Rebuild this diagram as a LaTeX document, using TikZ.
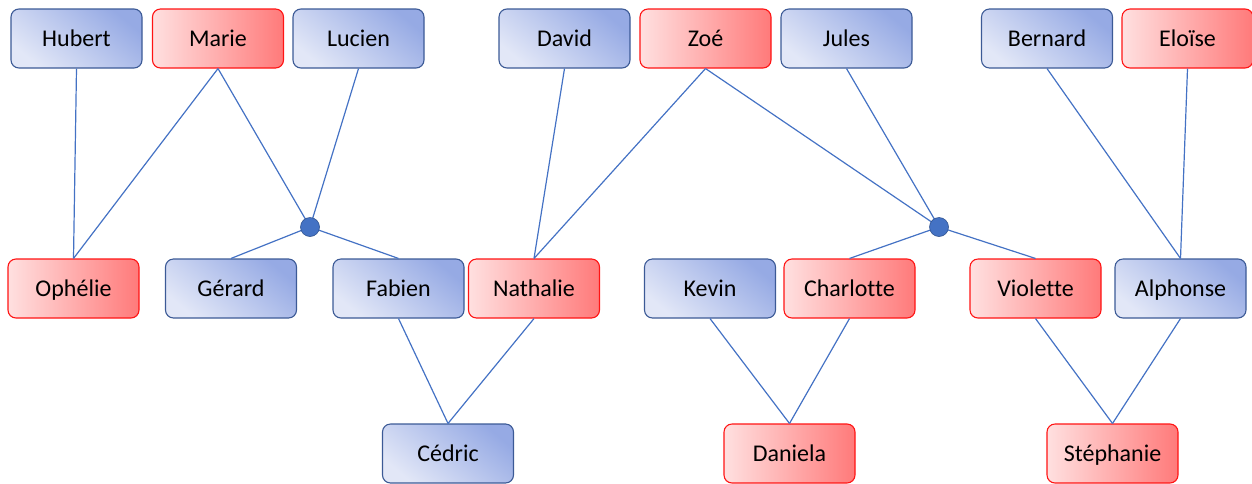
\documentclass[tikz,border=0pt]{standalone}
\usepackage{fontspec}
\setmainfont{Carlito}[Ligatures=NoCommon]
\definecolor{bdark}{RGB}{150,170,228}
\definecolor{blight}{RGB}{226,231,247}
\definecolor{bborder}{RGB}{60,90,150}
\definecolor{rdark}{RGB}{255,122,122}
\definecolor{rlight}{RGB}{255,224,224}
\definecolor{rborder}{RGB}{255,20,20}
\definecolor{lineblue}{RGB}{68,114,196}
\definecolor{dotborder}{RGB}{47,82,143}
\tikzset{
  person/.style={rounded corners=8pt, minimum width=131pt, minimum height=59pt, inner sep=0pt, text height=17pt, text depth=2pt, line width=1.1pt, font=\fontsize{24}{28}\selectfont},
  male/.style={person, draw=bborder, top color=bdark, bottom color=blight, shading angle=-40},
  female/.style={person, draw=rborder, left color=rlight, right color=rdark},
  link/.style={draw=lineblue, line width=1.2pt},
  junction/.style={circle, fill=lineblue, draw=dotborder, line width=0.6pt, minimum size=19pt, inner sep=0pt}
}
\begin{document}
\begin{tikzpicture}[x=1pt,y=-1pt]
\useasboundingbox (0,0) rectangle (1252,483);
% row 1
\node[male] (hubert) at (76.5,38.5) {Hubert};
\node[female] (marie) at (218,38.5) {Marie};
\node[male] (lucien) at (358.5,38.5) {Lucien};
\node[male] (david) at (564.5,38.5) {David};
\node[female] (zoe) at (705.5,38.5) {Zoé};
\node[male] (jules) at (846.5,38.5) {Jules};
\node[male] (bernard) at (1047,38.5) {Bernard};
\node[female] (eloise) at (1187.5,38.5) {Eloïse};
% row 2
\node[female] (ophelie) at (73.5,288.5) {Ophélie};
\node[male] (gerard) at (231,288.5) {Gérard};
\node[male] (fabien) at (398.5,288.5) {Fabien};
\node[female] (nathalie) at (534,288.5) {Nathalie};
\node[male] (kevin) at (710,288.5) {Kevin};
\node[female] (charlotte) at (849.5,288.5) {Charlotte};
\node[female] (violette) at (1035.5,288.5) {Violette};
\node[male] (alphonse) at (1180.5,288.5) {Alphonse};
% row 3
\node[male] (cedric) at (448,453.5) {Cédric};
\node[female] (daniela) at (789.5,453.5) {Daniela};
\node[female] (stephanie) at (1112.5,453.5) {Stéphanie};
% junctions
\coordinate (j1) at (310,227);
\coordinate (j2) at (939,227);
% links
\draw[link] (hubert.south) -- (ophelie.north);
\draw[link] (marie.south) -- (ophelie.north);
\draw[link] (marie.south) -- (j1);
\draw[link] (lucien.south) -- (j1);
\draw[link] (j1) -- (gerard.north);
\draw[link] (j1) -- (fabien.north);
\draw[link] (david.south) -- (nathalie.north);
\draw[link] (zoe.south) -- (nathalie.north);
\draw[link] (zoe.south) -- (j2);
\draw[link] (jules.south) -- (j2);
\draw[link] (j2) -- (charlotte.north);
\draw[link] (j2) -- (violette.north);
\draw[link] (bernard.south) -- (alphonse.north);
\draw[link] (eloise.south) -- (alphonse.north);
\draw[link] (fabien.south) -- (cedric.north);
\draw[link] (nathalie.south) -- (cedric.north);
\draw[link] (kevin.south) -- (daniela.north);
\draw[link] (charlotte.south) -- (daniela.north);
\draw[link] (violette.south) -- (stephanie.north);
\draw[link] (alphonse.south) -- (stephanie.north);
\node[junction] (d1) at (j1) {};
\node[junction] (d2) at (j2) {};
\end{tikzpicture}
\end{document}
